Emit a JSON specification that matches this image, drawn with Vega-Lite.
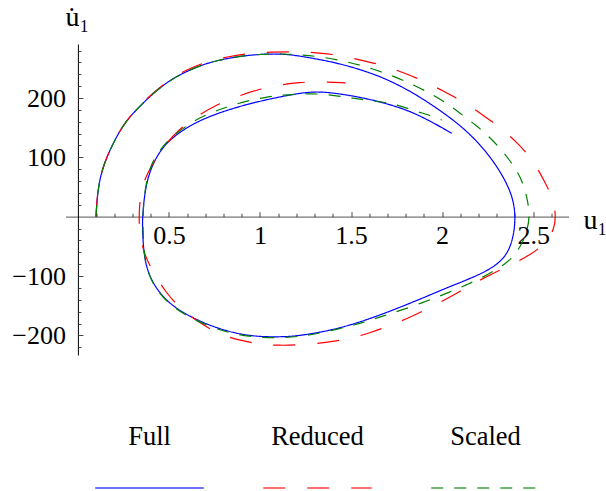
{
  "$schema": "https://vega.github.io/schema/vega-lite/v6.json",
  "autosize": {"type": "none"},
  "width": 503,
  "height": 444,
  "padding": {"left": 65.5, "top": 44, "right": 37.5, "bottom": 3},
  "background": "white",
  "config": {
    "view": {"stroke": null},
    "axis": {"labelFont": "Liberation Serif", "titleFont": "Liberation Serif", "labelColor": "#000", "titleColor": "#000", "titleFontWeight": "normal", "grid": false, "labelFlush": false, "labelOverlap": false, "labelBound": false}
  },
  "datasets": {
    "curves": [
      {"s":"Full","i":0,"u":0.100,"v":0},{"s":"Full","i":1,"u":0.104,"v":28},{"s":"Full","i":2,"u":0.121,"v":67},{"s":"Full","i":3,"u":0.158,"v":101},{"s":"Full","i":4,"u":0.212,"v":135},{"s":"Full","i":5,"u":0.268,"v":163},{"s":"Full","i":6,"u":0.340,"v":186},{"s":"Full","i":7,"u":0.413,"v":208},{"s":"Full","i":8,"u":0.504,"v":230},{"s":"Full","i":9,"u":0.597,"v":245},{"s":"Full","i":10,"u":0.706,"v":259},{"s":"Full","i":11,"u":0.851,"v":269},{"s":"Full","i":12,"u":0.997,"v":274},{"s":"Full","i":13,"u":1.125,"v":274.5},{"s":"Full","i":14,"u":1.216,"v":271},{"s":"Full","i":15,"u":1.398,"v":261},{"s":"Full","i":16,"u":1.530,"v":250},{"s":"Full","i":17,"u":1.655,"v":237},{"s":"Full","i":18,"u":1.760,"v":222},{"s":"Full","i":19,"u":1.862,"v":205},{"s":"Full","i":20,"u":2.030,"v":171},{"s":"Full","i":21,"u":2.168,"v":136},{"s":"Full","i":22,"u":2.278,"v":96},{"s":"Full","i":23,"u":2.352,"v":59},{"s":"Full","i":24,"u":2.392,"v":28},{"s":"Full","i":25,"u":2.402,"v":0},{"s":"Full","i":26,"u":2.396,"v":-25},{"s":"Full","i":27,"u":2.375,"v":-52},{"s":"Full","i":28,"u":2.330,"v":-74},{"s":"Full","i":29,"u":2.250,"v":-91},{"s":"Full","i":30,"u":2.140,"v":-106},{"s":"Full","i":31,"u":2.015,"v":-121},{"s":"Full","i":32,"u":1.825,"v":-146},{"s":"Full","i":33,"u":1.590,"v":-174},{"s":"Full","i":34,"u":1.400,"v":-191},{"s":"Full","i":35,"u":1.216,"v":-201},{"s":"Full","i":36,"u":1.088,"v":-203},{"s":"Full","i":37,"u":0.925,"v":-201},{"s":"Full","i":38,"u":0.761,"v":-188},{"s":"Full","i":39,"u":0.633,"v":-171},{"s":"Full","i":40,"u":0.523,"v":-152},{"s":"Full","i":41,"u":0.433,"v":-124},{"s":"Full","i":42,"u":0.378,"v":-90},{"s":"Full","i":43,"u":0.360,"v":-56},{"s":"Full","i":44,"u":0.354,"v":-17},{"s":"Full","i":45,"u":0.356,"v":6},{"s":"Full","i":46,"u":0.369,"v":45},{"s":"Full","i":47,"u":0.396,"v":79},{"s":"Full","i":48,"u":0.451,"v":112},{"s":"Full","i":49,"u":0.523,"v":135},{"s":"Full","i":50,"u":0.633,"v":157},{"s":"Full","i":51,"u":0.761,"v":174},{"s":"Full","i":52,"u":0.943,"v":191},{"s":"Full","i":53,"u":1.125,"v":203},{"s":"Full","i":54,"u":1.280,"v":211.5},{"s":"Full","i":55,"u":1.400,"v":209},{"s":"Full","i":56,"u":1.580,"v":200},{"s":"Full","i":57,"u":1.762,"v":185},{"s":"Full","i":58,"u":1.890,"v":169},{"s":"Full","i":59,"u":2.053,"v":140.5},
      {"s":"Reduced","i":0,"u":0.100,"v":0},{"s":"Reduced","i":1,"u":0.104,"v":28},{"s":"Reduced","i":2,"u":0.121,"v":67},{"s":"Reduced","i":3,"u":0.158,"v":101},{"s":"Reduced","i":4,"u":0.212,"v":135},{"s":"Reduced","i":5,"u":0.268,"v":163},{"s":"Reduced","i":6,"u":0.340,"v":187},{"s":"Reduced","i":7,"u":0.413,"v":209},{"s":"Reduced","i":8,"u":0.504,"v":231},{"s":"Reduced","i":9,"u":0.597,"v":248},{"s":"Reduced","i":10,"u":0.706,"v":261},{"s":"Reduced","i":11,"u":0.820,"v":269.5},{"s":"Reduced","i":12,"u":0.943,"v":275.5},{"s":"Reduced","i":13,"u":1.060,"v":277.5},{"s":"Reduced","i":14,"u":1.190,"v":278},{"s":"Reduced","i":15,"u":1.307,"v":276.6},{"s":"Reduced","i":16,"u":1.434,"v":272.5},{"s":"Reduced","i":17,"u":1.552,"v":264},{"s":"Reduced","i":18,"u":1.680,"v":255},{"s":"Reduced","i":19,"u":1.785,"v":243},{"s":"Reduced","i":20,"u":1.905,"v":228},{"s":"Reduced","i":21,"u":2.010,"v":211},{"s":"Reduced","i":22,"u":2.120,"v":193},{"s":"Reduced","i":23,"u":2.225,"v":171},{"s":"Reduced","i":24,"u":2.325,"v":149},{"s":"Reduced","i":25,"u":2.415,"v":124},{"s":"Reduced","i":26,"u":2.490,"v":98.5},{"s":"Reduced","i":27,"u":2.560,"v":62},{"s":"Reduced","i":28,"u":2.612,"v":28},{"s":"Reduced","i":29,"u":2.625,"v":0},{"s":"Reduced","i":30,"u":2.615,"v":-20},{"s":"Reduced","i":31,"u":2.578,"v":-42},{"s":"Reduced","i":32,"u":2.485,"v":-65},{"s":"Reduced","i":33,"u":2.375,"v":-81},{"s":"Reduced","i":34,"u":2.265,"v":-98},{"s":"Reduced","i":35,"u":2.155,"v":-115},{"s":"Reduced","i":36,"u":2.048,"v":-135},{"s":"Reduced","i":37,"u":1.938,"v":-152},{"s":"Reduced","i":38,"u":1.828,"v":-169},{"s":"Reduced","i":39,"u":1.718,"v":-183},{"s":"Reduced","i":40,"u":1.603,"v":-196},{"s":"Reduced","i":41,"u":1.483,"v":-206},{"s":"Reduced","i":42,"u":1.362,"v":-212},{"s":"Reduced","i":43,"u":1.232,"v":-216},{"s":"Reduced","i":44,"u":1.100,"v":-217},{"s":"Reduced","i":45,"u":1.000,"v":-215},{"s":"Reduced","i":46,"u":0.880,"v":-208},{"s":"Reduced","i":47,"u":0.760,"v":-196},{"s":"Reduced","i":48,"u":0.660,"v":-177},{"s":"Reduced","i":49,"u":0.560,"v":-154},{"s":"Reduced","i":50,"u":0.478,"v":-126},{"s":"Reduced","i":51,"u":0.414,"v":-93},{"s":"Reduced","i":52,"u":0.360,"v":-62},{"s":"Reduced","i":53,"u":0.338,"v":-22},{"s":"Reduced","i":54,"u":0.336,"v":0},{"s":"Reduced","i":55,"u":0.338,"v":17},{"s":"Reduced","i":56,"u":0.351,"v":53},{"s":"Reduced","i":57,"u":0.400,"v":84},{"s":"Reduced","i":58,"u":0.469,"v":118},{"s":"Reduced","i":59,"u":0.551,"v":146},{"s":"Reduced","i":60,"u":0.651,"v":169},{"s":"Reduced","i":61,"u":0.751,"v":187},{"s":"Reduced","i":62,"u":0.870,"v":202},{"s":"Reduced","i":63,"u":0.980,"v":213.7},{"s":"Reduced","i":64,"u":1.107,"v":222},{"s":"Reduced","i":65,"u":1.216,"v":226.5},{"s":"Reduced","i":66,"u":1.325,"v":227.6},{"s":"Reduced","i":67,"u":1.470,"v":225.5},
      {"s":"Scaled","i":0,"u":0.100,"v":0},{"s":"Scaled","i":1,"u":0.104,"v":28},{"s":"Scaled","i":2,"u":0.121,"v":67},{"s":"Scaled","i":3,"u":0.158,"v":101},{"s":"Scaled","i":4,"u":0.212,"v":135},{"s":"Scaled","i":5,"u":0.268,"v":163},{"s":"Scaled","i":6,"u":0.340,"v":186},{"s":"Scaled","i":7,"u":0.413,"v":208},{"s":"Scaled","i":8,"u":0.504,"v":230},{"s":"Scaled","i":9,"u":0.597,"v":245},{"s":"Scaled","i":10,"u":0.706,"v":259},{"s":"Scaled","i":11,"u":0.851,"v":269},{"s":"Scaled","i":12,"u":0.997,"v":274},{"s":"Scaled","i":13,"u":1.125,"v":274.6},{"s":"Scaled","i":14,"u":1.216,"v":272.5},{"s":"Scaled","i":15,"u":1.330,"v":270},{"s":"Scaled","i":16,"u":1.484,"v":261},{"s":"Scaled","i":17,"u":1.610,"v":250},{"s":"Scaled","i":18,"u":1.734,"v":237},{"s":"Scaled","i":19,"u":1.850,"v":221},{"s":"Scaled","i":20,"u":1.953,"v":205},{"s":"Scaled","i":21,"u":2.040,"v":188},{"s":"Scaled","i":22,"u":2.113,"v":171},{"s":"Scaled","i":23,"u":2.190,"v":153},{"s":"Scaled","i":24,"u":2.254,"v":136},{"s":"Scaled","i":25,"u":2.320,"v":115},{"s":"Scaled","i":26,"u":2.369,"v":96},{"s":"Scaled","i":27,"u":2.410,"v":77},{"s":"Scaled","i":28,"u":2.442,"v":59},{"s":"Scaled","i":29,"u":2.470,"v":28},{"s":"Scaled","i":30,"u":2.482,"v":0},{"s":"Scaled","i":31,"u":2.465,"v":-25},{"s":"Scaled","i":32,"u":2.440,"v":-45},{"s":"Scaled","i":33,"u":2.400,"v":-64},{"s":"Scaled","i":34,"u":2.350,"v":-79},{"s":"Scaled","i":35,"u":2.290,"v":-90},{"s":"Scaled","i":36,"u":2.230,"v":-101},{"s":"Scaled","i":37,"u":2.140,"v":-114},{"s":"Scaled","i":38,"u":2.050,"v":-126},{"s":"Scaled","i":39,"u":1.860,"v":-149},{"s":"Scaled","i":40,"u":1.680,"v":-167},{"s":"Scaled","i":41,"u":1.516,"v":-183},{"s":"Scaled","i":42,"u":1.334,"v":-196},{"s":"Scaled","i":43,"u":1.216,"v":-202},{"s":"Scaled","i":44,"u":1.100,"v":-204.5},{"s":"Scaled","i":45,"u":0.925,"v":-202.5},{"s":"Scaled","i":46,"u":0.761,"v":-190},{"s":"Scaled","i":47,"u":0.633,"v":-173},{"s":"Scaled","i":48,"u":0.523,"v":-153.5},{"s":"Scaled","i":49,"u":0.433,"v":-125.5},{"s":"Scaled","i":50,"u":0.378,"v":-91},{"s":"Scaled","i":51,"u":0.362,"v":-56},{"s":"Scaled","i":52,"u":0.357,"v":-17},{"s":"Scaled","i":53,"u":0.358,"v":0},{"s":"Scaled","i":54,"u":0.362,"v":30},{"s":"Scaled","i":55,"u":0.378,"v":62},{"s":"Scaled","i":56,"u":0.405,"v":90},{"s":"Scaled","i":57,"u":0.440,"v":108},{"s":"Scaled","i":58,"u":0.487,"v":126},{"s":"Scaled","i":59,"u":0.533,"v":139},{"s":"Scaled","i":60,"u":0.597,"v":153},{"s":"Scaled","i":61,"u":0.651,"v":164},{"s":"Scaled","i":62,"u":0.742,"v":176.5},{"s":"Scaled","i":63,"u":0.815,"v":184.5},{"s":"Scaled","i":64,"u":0.870,"v":190},{"s":"Scaled","i":65,"u":0.943,"v":196},{"s":"Scaled","i":66,"u":1.025,"v":201},{"s":"Scaled","i":67,"u":1.107,"v":204.5},{"s":"Scaled","i":68,"u":1.216,"v":207},{"s":"Scaled","i":69,"u":1.325,"v":207.5},{"s":"Scaled","i":70,"u":1.452,"v":202.5},{"s":"Scaled","i":71,"u":1.526,"v":199},{"s":"Scaled","i":72,"u":1.620,"v":195},{"s":"Scaled","i":73,"u":1.714,"v":191.5},{"s":"Scaled","i":74,"u":1.769,"v":186.5},{"s":"Scaled","i":75,"u":1.830,"v":180.5},{"s":"Scaled","i":76,"u":1.890,"v":174.5},{"s":"Scaled","i":77,"u":1.943,"v":169.7},{"s":"Scaled","i":78,"u":1.998,"v":163}
    ],
    "legend": [{"series": "Full"}, {"series": "Reduced"}, {"series": "Scaled"}]
  },
  "resolve": {"scale": {"x": "independent", "y": "independent"}, "axis": {"x": "independent", "y": "independent"}},
  "layer": [
    {
      "data": {"name": "curves"},
      "mark": {"type": "line", "strokeWidth": 1.2, "interpolate": "basis"},
      "encoding": {
        "x": {"field": "u", "type": "quantitative",
          "scale": {"domain": [-0.068, 2.694], "nice": false, "zero": false},
          "axis": {"orient": "bottom", "offset": -271.3, "values": [0.5, 1, 1.5, 2, 2.5], "format": "~g", "ticks": false, "labelFontSize": 26, "labelPadding": 27, "labelBaseline": "alphabetic", "domainColor": "#777777", "domainWidth": 1.3, "title": "u₁", "titleFontSize": 28, "titleX": 517.5, "titleY": 11.5, "titleAlign": "left", "titleBaseline": "alphabetic", "titleAngle": 0}},
        "y": {"field": "v", "type": "quantitative",
          "scale": {"domain": [-233, 291], "range": [311, 0], "nice": false, "zero": false},
          "axis": {"orient": "left", "offset": -12.4, "values": [-200, -100, 100, 200], "format": "d", "ticks": false, "labelFontSize": 26, "labelPadding": 12.5, "labelBaseline": "middle", "domainColor": "#000000", "domainWidth": 1, "title": "u̇₁", "titleFontSize": 28, "titleAngle": 0, "titleX": -13, "titleY": -19, "titleAlign": "left", "titleBaseline": "alphabetic"}},
        "order": {"field": "i", "type": "quantitative"},
        "color": {"field": "s", "type": "nominal", "scale": {"domain": ["Full", "Reduced", "Scaled"], "range": ["#0000ff", "#ff0000", "#008000"]}, "legend": null},
        "strokeDash": {"field": "s", "type": "nominal", "scale": {"domain": ["Full", "Reduced", "Scaled"], "range": [[1, 0], [22, 22], [12, 11]]}, "legend": null}
      }
    },
    {
      "data": {"name": "curves"},
      "mark": {"type": "point", "opacity": 0, "size": 0},
      "encoding": {
        "x": {"field": "u", "type": "quantitative",
          "scale": {"domain": [-0.068, 2.694], "nice": false, "zero": false},
          "axis": {"orient": "top", "offset": -172.7, "values": [0.5, 1, 1.5, 2, 2.5], "labels": false, "domain": false, "ticks": true, "tickSize": 5, "tickColor": "#444444", "tickWidth": 1, "title": null}},
        "y": {"field": "v", "type": "quantitative",
          "scale": {"domain": [-233, 291], "range": [311, 0], "nice": false, "zero": false},
          "axis": {"orient": "right", "offset": -490.6, "values": [-200, -100, 100, 200], "labels": false, "domain": false, "ticks": true, "tickSize": 5, "tickColor": "#444444", "tickWidth": 1, "title": null}}
      }
    },
    {
      "data": {"name": "curves"},
      "mark": {"type": "point", "opacity": 0, "size": 0},
      "encoding": {
        "x": {"field": "u", "type": "quantitative",
          "scale": {"domain": [-0.068, 2.694], "nice": false, "zero": false},
          "axis": {"orient": "top", "offset": -172.7, "values": [0.1, 0.2, 0.3, 0.4, 0.6, 0.7, 0.8, 0.9, 1.1, 1.2, 1.3, 1.4, 1.6, 1.7, 1.8, 1.9, 2.1, 2.2, 2.3, 2.4, 2.6], "labels": false, "domain": false, "ticks": true, "tickSize": 3.5, "tickColor": "#444444", "tickWidth": 1, "title": null}},
        "y": {"field": "v", "type": "quantitative",
          "scale": {"domain": [-233, 291], "range": [311, 0], "nice": false, "zero": false},
          "axis": {"orient": "right", "offset": -490.6, "values": [-220, -180, -160, -140, -120, -80, -60, -40, -20, 20, 40, 60, 80, 120, 140, 160, 180, 220, 240, 260, 280], "labels": false, "domain": false, "ticks": true, "tickSize": 3, "tickColor": "#444444", "tickWidth": 1, "title": null}}
      }
    },
    {
      "data": {"name": "legend"},
      "mark": {"type": "text", "font": "Liberation Serif", "fontSize": 26.5, "color": "#000000", "align": "center", "baseline": "middle"},
      "encoding": {
        "x": {"field": "series", "type": "nominal", "scale": {"type": "band", "domain": ["Full", "Reduced", "Scaled"], "range": [0, 504], "paddingInner": 0.354, "paddingOuter": 0.177}, "axis": null},
        "y": {"datum": "label", "type": "nominal", "scale": {"type": "point", "domain": ["label", "sample"], "range": [393, 444], "padding": 0}, "axis": null},
        "text": {"field": "series", "type": "nominal"}
      }
    },
    {
      "data": {"name": "legend"},
      "mark": {"type": "rule", "strokeWidth": 1.5, "opacity": 0.75},
      "encoding": {
        "x": {"field": "series", "type": "nominal", "bandPosition": 0, "scale": {"type": "band", "domain": ["Full", "Reduced", "Scaled"], "range": [0, 504], "paddingInner": 0.354, "paddingOuter": 0.177}, "axis": null},
        "x2": {"field": "series", "bandPosition": 1},
        "y": {"datum": "sample", "type": "nominal", "scale": {"type": "point", "domain": ["label", "sample"], "range": [393, 444], "padding": 0}, "axis": null},
        "color": {"field": "series", "type": "nominal", "legend": null},
        "strokeDash": {"field": "series", "type": "nominal", "legend": null}
      }
    }
  ]
}
